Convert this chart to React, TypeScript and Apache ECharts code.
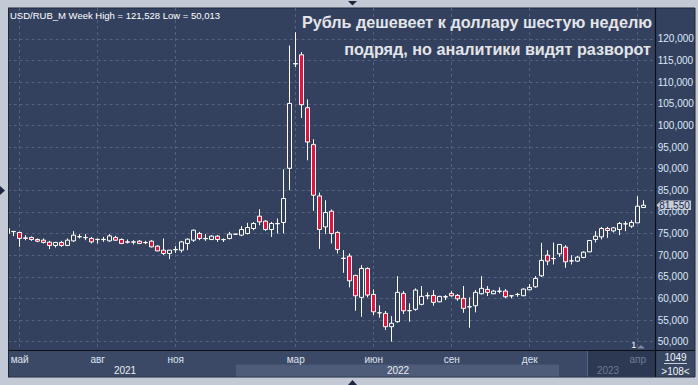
import React, { useEffect, useRef } from "react";
import * as echarts from "echarts";

// ---------- data ----------
const FIRST_WEEK = "2021-04-05";
const SLOT_COUNT = 109; // 107 weekly bars + 2 empty slots on the right edge

const opens = [
  76170, 75500, 75250, 73900, 74100, 73630, 73470, 73010, 72250, 72940,
  72250, 73310, 74230, 74100, 73870, 73600, 73650, 73310, 74100, 73630,
  73080, 73000, 73240, 72940, 73240, 72090, 71160, 70400, 71250, 71160,
  72710, 73470, 75020, 73870, 73630, 74400, 73630, 73870, 74860, 74630,
  75020, 76170, 79010, 77860, 75940, 77330, 77560, 90090, 114300, 116330,
  104100, 95560, 83700, 76540, 80170, 75250, 69300, 69780, 65330, 60250,
  66940, 60940, 56700, 56550, 53460, 54620, 61170, 57150, 57480, 58630,
  60600, 60710, 59230, 60350, 61170, 60710, 60020, 58050, 58310, 61080,
  62090, 61080, 61700, 61700, 60620, 60900, 60620, 62000, 62690, 65230,
  70010, 69250, 70310, 71860, 68700, 68630, 69480, 70770, 73630, 74230,
  76170, 75620, 75940, 77250, 76700, 77470, 81020,
];
const closes = [
  75020, 75450, 73870, 74000, 73630, 73240, 72940, 72250, 72940, 72250,
  73470, 74630, 74300, 74050, 73080, 73650, 73600, 74460, 73470, 72710,
  73000, 73080, 72710, 72900, 71930, 71000, 70400, 71160, 71330, 73080,
  73700, 75780, 73870, 73800, 74400, 73630, 73580, 74860, 74860, 75940,
  76400, 77330, 77700, 75940, 77330, 77250, 83100, 105090, 114200, 104790,
  96160, 83860, 75940, 79870, 75020, 71330, 69250, 64080, 60620, 66940,
  60780, 56920, 56650, 53460, 54250, 61400, 57150, 57200, 61930, 60480,
  60650, 59090, 60480, 60400, 60620, 59920, 57710, 58080, 61400, 62330,
  61400, 61700, 61650, 60390, 60600, 60940, 62160, 62560, 64630, 68790,
  68630, 69200, 72480, 68460, 68650, 69550, 70700, 73400, 74400, 76170,
  75710, 76310, 77330, 77230, 77560, 81320, 81550,
];
const lows = [
  74630, 74400, 71930, 73470, 73310, 73010, 72710, 71400, 71790, 71930,
  72090, 73080, 73870, 73470, 72710, 72710, 73080, 73080, 73310, 72550,
  72710, 72480, 72550, 72550, 71790, 70930, 70010, 69090, 70540, 70630,
  71160, 73080, 73470, 73310, 73470, 73080, 73080, 73630, 74700, 74400,
  74790, 75780, 76930, 75620, 74230, 75020, 75020, 85010, 113470, 101700,
  91940, 80240, 71460, 74860, 72710, 70400, 65930, 62560, 57150, 55770,
  60250, 56160, 55540, 52700, 50013, 54390, 56390, 54620, 57150, 58400,
  59790, 58310, 59100, 59620, 60390, 59460, 56690, 53230, 56790, 60940,
  60550, 61010, 61170, 60020, 60020, 60390, 60550, 61930, 62460, 65000,
  67700, 67860, 69620, 67080, 67860, 68460, 69300, 70700, 72940, 73630,
  74000, 75250, 74630, 75550, 76310, 77470, 81000,
];
const highs = [
  76470, 75600, 75430, 74620, 74330, 73870, 73870, 73310, 73080, 73310,
  73870, 75550, 74860, 74860, 74230, 73870, 74230, 74860, 74460, 73870,
  73630, 73470, 73470, 73310, 73470, 72320, 73870, 71160, 72090, 73310,
  73870, 75940, 75390, 74860, 74630, 74630, 73870, 75390, 74950, 76700,
  77470, 77700, 80630, 78090, 77700, 78480, 89860, 118480, 121528, 116930,
  106020, 96780, 84480, 82700, 80560, 75550, 71160, 70400, 65460, 67700,
  67170, 62090, 58400, 57090, 55930, 65160, 61700, 58860, 62330, 62860,
  61400, 61930, 60600, 60780, 61700, 61010, 62860, 60250, 61930, 65160,
  62860, 61930, 62560, 62160, 60780, 61310, 62330, 63320, 65160, 72850,
  71160, 72940, 72480, 72320, 70010, 69850, 70900, 73500, 75550, 76540,
  76540, 76540, 77700, 77860, 78090, 83630, 82700,
];

const monthTickDates = [
  "2021-04-19", "2021-07-19", "2021-10-18", "2022-03-07",
  "2022-06-06", "2022-09-05", "2022-12-05", "2023-04-10",
];
const monthTickLabels = ["май", "авг", "ноя", "мар", "июн", "сен", "дек", "апр"];
const fadedTickDates = ["2023-04-10"];
const yearLabels = ["2021", "2022", "2023"];

const headerText = "USD/RUB_M Week High = 121,528 Low = 50,013";
const titleLines = [
  "Рубль дешевеет к доллару шестую неделю",
  "подряд, но аналитики видят разворот",
];
const infoTop = "1049";
const infoBottom = ">108<";

// ---------- helpers ----------
const categories: string[] = (() => {
  const out: string[] = [];
  const [y, m, d] = FIRST_WEEK.split("-").map(Number);
  const t0 = Date.UTC(y, m - 1, d);
  for (let i = 0; i < SLOT_COUNT; i++) {
    out.push(new Date(t0 + i * 7 * 86400000).toISOString().slice(0, 10));
  }
  return out;
})();

const labelMap: Record<string, string> = {};
monthTickDates.forEach((d, i) => (labelMap[d] = monthTickLabels[i]));

const fmt = (v: number) =>
  String(Math.round(v)).replace(/\B(?=(\d{3})+(?!\d))/g, ",");

const FONT = "'Liberation Sans', Arial, Helvetica, sans-serif";
const OUTER = "#c3cad6";
const BG = "#33415f";
const GRID_LINE = "#53617e";
const RED = "#e3143c";

export default function App() {
  const ref = useRef<HTMLDivElement | null>(null);

  useEffect(() => {
    document.body.style.margin = "0";
    if (!ref.current) return;
    const chart = echarts.init(ref.current, undefined, { renderer: "svg" });

    const data = opens.map((o, i) => [o, closes[i], lows[i], highs[i]]);

    chart.setOption({
      animation: false,
      backgroundColor: OUTER,
      grid: [
        { left: 7.7, width: 648, top: 38.9, height: 302.8, show: false },
        { left: 7.7, width: 648, top: 8, height: 342, show: false },
      ],
      xAxis: [
        {
          type: "category",
          gridIndex: 0,
          data: categories,
          boundaryGap: false,
          show: false,
        },
        {
          type: "category",
          gridIndex: 1,
          data: categories,
          boundaryGap: false,
          axisLine: { show: false },
          axisTick: { show: false },
          splitLine: {
            show: true,
            interval: (_i: number, v: string) => v in labelMap,
            lineStyle: { color: GRID_LINE, type: [3, 3], width: 1 },
          },
          axisLabel: {
            interval: (_i: number, v: string) => v in labelMap,
            formatter: (v: string) => labelMap[v] || "",
            color: (v: string) =>
              fadedTickDates.includes(v) ? "#717d95" : "#dfe5ee",
            fontSize: 10,
            fontFamily: FONT,
            margin: 4,
          },
        },
      ],
      yAxis: [
        {
          type: "value",
          gridIndex: 0,
          position: "right",
          min: 50000,
          max: 120000,
          interval: 5000,
          axisLine: { show: false },
          axisTick: { show: false },
          splitLine: {
            show: true,
            lineStyle: { color: GRID_LINE, type: [3, 3], width: 1 },
          },
          axisLabel: {
            formatter: (v: number) => fmt(v),
            color: "#dde8f7",
            fontSize: 10,
            fontFamily: FONT,
            margin: 2,
          },
        },
        {
          type: "value",
          gridIndex: 1,
          show: false,
          min: 0,
          max: 1,
          splitLine: { show: false },
        },
      ],
      series: [
        {
          type: "candlestick",
          xAxisIndex: 0,
          yAxisIndex: 0,
          data,
          barWidth: 4,
          clip: false,
          itemStyle: {
            color: BG,
            color0: RED,
            borderColor: "#ffffff",
            borderColor0: "#ffffff",
            borderWidth: 1,
          },
        },
      ],
    });

    const lastClose = closes[closes.length - 1];
    const py = chart.convertToPixel({ yAxisIndex: 0 }, lastClose) as number;

    const txt = (
      x: number,
      y: number,
      text: string,
      opts: Record<string, any> = {}
    ) => ({
      type: "text",
      x,
      y,
      z: 50,
      style: {
        text,
        fill: "#ffffff",
        fontSize: 10,
        fontFamily: FONT,
        align: "center",
        verticalAlign: "middle",
        ...opts,
      },
    });

    chart.setOption({
      graphic: [
        // panels
        {
          type: "rect",
          z: -10,
          shape: { x: 8, y: 8, width: 687, height: 369 },
          style: { fill: BG, stroke: "#1e2638", lineWidth: 1 },
        },
        {
          type: "rect",
          z: -9,
          shape: { x: 8.5, y: 350.5, width: 646.5, height: 26 },
          style: { fill: "#3c4966" },
        },
        {
          type: "rect",
          z: -8,
          shape: { x: 236, y: 364.5, width: 323, height: 12 },
          style: { fill: "#4e5c79" },
        },
        {
          type: "rect",
          z: -8,
          shape: { x: 587, y: 350.5, width: 68, height: 26 },
          style: { fill: "#2d3952" },
        },
        {
          type: "line",
          z: -7,
          shape: { x1: 587.5, y1: 351, x2: 587.5, y2: 376.5 },
          style: { stroke: "#56637d", lineWidth: 1 },
        },
        {
          type: "rect",
          z: -8,
          shape: { x: 655.5, y: 350.5, width: 39, height: 26 },
          style: { fill: "#3a4762" },
        },
        // black separators
        {
          type: "line",
          z: 40,
          shape: { x1: 8, y1: 350.5, x2: 695, y2: 350.5 },
          style: { stroke: "#0c0f16", lineWidth: 1.2 },
        },
        {
          type: "line",
          z: 40,
          shape: { x1: 655.5, y1: 8, x2: 655.5, y2: 377 },
          style: { stroke: "#0c0f16", lineWidth: 1.2 },
        },
        // left cover strip (clips first candle)
        {
          type: "rect",
          z: 100,
          shape: { x: 0, y: 0, width: 8, height: 385 },
          style: { fill: OUTER },
        },
        {
          type: "line",
          z: 101,
          shape: { x1: 8.5, y1: 8, x2: 8.5, y2: 377 },
          style: { stroke: "#1e2638", lineWidth: 1 },
        },
        // markers
        {
          type: "polygon",
          z: 101,
          shape: { points: [[348, 1], [357, 1], [352.5, 5.5]] },
          style: { fill: "#1d2840" },
        },
        {
          type: "polygon",
          z: 101,
          shape: { points: [[348, 385], [357, 385], [352.5, 380]] },
          style: { fill: "#1d2840" },
        },
        {
          type: "polygon",
          z: 101,
          shape: { points: [[0, 186], [0, 195], [5, 190.5]] },
          style: { fill: "#1d2840" },
        },
        // header + title
        txt(10, 15, headerText, { align: "left", fontSize: 9.5 }),
        txt(652, 22, titleLines[0], {
          align: "right",
          fontSize: 16.2,
          fontWeight: "bold",
          fill: "#e3e5e9",
        }),
        txt(651, 49, titleLines[1], {
          align: "right",
          fontSize: 16.2,
          fontWeight: "bold",
          fill: "#e3e5e9",
        }),
        // years
        txt(125, 370, yearLabels[0], { fill: "#e8ecf2" }),
        txt(398, 370, yearLabels[1], { fill: "#e8ecf2" }),
        txt(608, 370, yearLabels[2], { fill: "#6c7890" }),
        // bottom-right info box
        txt(675.5, 357, infoTop, { fill: "#f0f3f7" }),
        {
          type: "line",
          z: 50,
          shape: { x1: 664, y1: 363.5, x2: 687, y2: 363.5 },
          style: { stroke: "#c8cfdb", lineWidth: 1 },
        },
        txt(675.5, 371, infoBottom, { fill: "#f0f3f7" }),
        // "1" marker near bottom
        txt(633.7, 345.3, "1", { fontSize: 9 }),
        {
          type: "polygon",
          z: 50,
          shape: { points: [[637, 348.5], [645, 348.5], [641, 345]] },
          style: { fill: "#7f8aa0" },
        },
        // last price label
        {
          type: "polygon",
          z: 60,
          shape: {
            points: [
              [656.5, py],
              [661, py - 4.8],
              [691, py - 4.8],
              [691, py + 4.8],
              [661, py + 4.8],
            ],
          },
          style: { fill: "#c8ccd3" },
        },
        {
          ...txt(674.5, py + 0.3, fmt(lastClose), { fill: "#17285a" }),
          z: 61,
        },
      ],
    });

    return () => chart.dispose();
  }, []);

  return (
    <div
      ref={ref}
      style={{ position: "fixed", left: 0, top: 0, width: 698, height: 385 }}
    />
  );
}
